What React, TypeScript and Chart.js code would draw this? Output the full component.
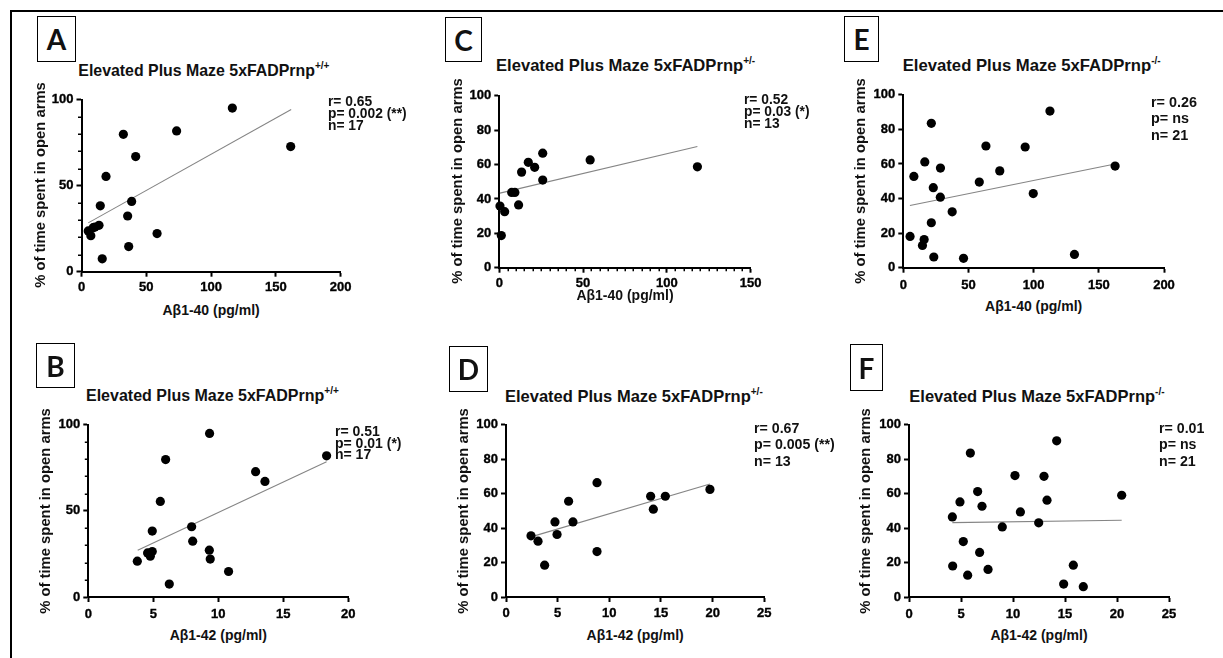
import React, { useEffect, useRef } from 'react';
import { Chart, registerables } from 'chart.js';

Chart.register(...registerables);

// ---------- Data ----------
const xLabel40 = 'Aβ1-40 (pg/ml)';
const xLabel42 = 'Aβ1-42 (pg/ml)';
const yLabel = '% of time spent in open arms';
const titleBase = 'Elevated Plus Maze 5xFADPrnp';

// Panel A : Aβ1-40, Prnp+/+
const aX = [116.4, 73.4, 32.3, 161.4, 41.8, 18.9, 38.7, 14.5, 35.6, 58.3, 13.5, 10.4, 5.2, 7.2, 36.4, 16.0, 9.0];
const aY = [95.2, 81.9, 79.9, 72.8, 67.0, 55.4, 40.9, 38.3, 32.4, 22.2, 27.0, 26.0, 23.7, 20.9, 14.6, 7.5, 25.6];
const aFitX = [5.2, 161.8];
const aFitY = [28.4, 94.4];
const aStats = ['r= 0.65', 'p= 0.002 (**)', 'n= 17'];

// Panel C : Aβ1-40, Prnp+/-
const cX = [25.9, 54.2, 17.3, 21.1, 118.2, 13.3, 25.9, 7.4, 9.3, 11.5, 0.4, 3.2, 1.2];
const cY = [66.6, 62.7, 61.3, 58.4, 58.7, 55.6, 51.0, 43.8, 43.8, 36.5, 35.9, 32.6, 18.7];
const cFitX = [0.4, 118.2];
const cFitY = [43.4, 70.5];
const cStats = ['r= 0.52', 'p= 0.03 (*)', 'n= 13'];

// Panel E : Aβ1-40, Prnp-/-
const eX = [112.5, 21.5, 63.4, 93.5, 16.5, 28.5, 162.5, 74.0, 8.1, 58.3, 23.0, 99.7, 28.4, 37.5, 21.5, 5.2, 16.0, 14.7, 23.4, 46.2, 131.3];
const eY = [90.6, 83.5, 70.4, 69.8, 61.2, 57.6, 58.8, 56.0, 52.8, 49.5, 46.3, 42.9, 40.8, 32.3, 26.0, 18.1, 16.3, 12.9, 6.2, 5.4, 7.7];
const eFitX = [5.1, 162.4];
const eFitY = [36.0, 60.0];
const eStats = ['r= 0.26', 'p= ns', 'n= 21'];

// Panel B : Aβ1-42, Prnp+/+
const bX = [9.33, 18.33, 5.95, 12.87, 13.59, 5.54, 7.95, 4.92, 8.03, 9.31, 9.38, 4.92, 4.77, 4.56, 3.77, 10.79, 6.23];
const bY = [95.0, 82.0, 79.8, 72.8, 67.1, 55.5, 40.8, 38.3, 32.4, 27.2, 22.0, 26.4, 23.7, 25.6, 20.8, 14.8, 7.5];
const bFitX = [3.8, 18.33];
const bFitY = [27.2, 78.6];
const bStats = ['r= 0.51', 'p= 0.01 (*)', 'n= 17'];

// Panel D : Aβ1-42, Prnp+/-
const dX = [8.81, 19.74, 14.0, 15.42, 6.06, 14.26, 4.74, 6.48, 4.94, 2.42, 3.1, 8.81, 3.74];
const dY = [66.4, 62.5, 58.5, 58.5, 55.6, 51.0, 43.6, 43.6, 36.3, 35.5, 32.4, 26.4, 18.5];
const dFitX = [2.42, 19.74];
const dFitY = [34.9, 65.6];
const dStats = ['r= 0.67', 'p= 0.005 (**)', 'n= 13'];

// Panel F : Aβ1-42, Prnp-/-
const fX = [14.2, 5.9, 10.19, 12.98, 6.6, 20.45, 13.27, 4.9, 7.02, 10.71, 4.17, 12.47, 8.97, 5.22, 6.79, 15.8, 4.2, 7.6, 5.64, 14.87, 16.76];
const fY = [90.7, 83.6, 70.5, 70.1, 61.2, 59.1, 56.2, 55.2, 52.7, 49.4, 46.5, 43.1, 40.7, 32.2, 25.9, 18.5, 18.0, 16.0, 12.7, 7.5, 6.0];
const fFitX = [4.17, 20.45];
const fFitY = [43.2, 44.6];
const fStats = ['r= 0.01', 'p= ns', 'n= 21'];

// ---------- Layout ----------
type PanelCfg = {
  letter: string;
  sup: string;
  xs: number[]; ys: number[]; fitX: number[]; fitY: number[];
  stats: string[];
  xLabel: string;
  xMax: number; xStep: number; yStep: number;
  xMinor?: number; yMinor?: number;
  L: number; R: number; T: number; B: number;
  yTitleCx: number; xTitleCy: number; tickPad: number;
  box: { l: number; t: number; w: number; h: number };
  title: { l: number; base: number; fs: number };
  st: { l: number; c: number; lh: number; fs: number };
};

const panels: PanelCfg[] = [
  {
    letter: 'A', sup: '+/+', xs: aX, ys: aY, fitX: aFitX, fitY: aFitY, stats: aStats, xLabel: xLabel40,
    xMax: 200, xStep: 50, yStep: 50, yMinor: 10,
    L: 81.5, R: 340.7, T: 99, B: 271.7, yTitleCx: 40, xTitleCy: 310, tickPad: 2.5,
    box: { l: 37, t: 16, w: 39, h: 46 }, title: { l: 78.3, base: 76, fs: 15.9 },
    st: { l: 328, c: 102, lh: 12, fs: 13.8 },
  },
  {
    letter: 'C', sup: '+/-', xs: cX, ys: cY, fitX: cFitX, fitY: cFitY, stats: cStats, xLabel: xLabel40,
    xMax: 150, xStep: 50, yStep: 20, xMinor: 5,
    L: 499.3, R: 750.7, T: 95, B: 267.7, yTitleCx: 457, xTitleCy: 295, tickPad: 2.5,
    box: { l: 445, t: 17, w: 37, h: 45 }, title: { l: 496, base: 71.7, fs: 16.6 },
    st: { l: 744, c: 99.5, lh: 12, fs: 13.8 },
  },
  {
    letter: 'E', sup: '-/-', xs: eX, ys: eY, fitX: eFitX, fitY: eFitY, stats: eStats, xLabel: xLabel40,
    xMax: 200, xStep: 50, yStep: 20,
    L: 903.3, R: 1164, T: 94.3, B: 267.7, yTitleCx: 860, xTitleCy: 306, tickPad: 4.5,
    box: { l: 844, t: 16, w: 35, h: 46 }, title: { l: 902.7, base: 71.7, fs: 16.7 },
    st: { l: 1151, c: 102, lh: 16.5, fs: 14.4 },
  },
  {
    letter: 'B', sup: '+/+', xs: bX, ys: bY, fitX: bFitX, fitY: bFitY, stats: bStats, xLabel: xLabel42,
    xMax: 20, xStep: 5, yStep: 50, yMinor: 10,
    L: 88.3, R: 348.3, T: 424, B: 597, yTitleCx: 44.7, xTitleCy: 635, tickPad: 5,
    box: { l: 36, t: 343, w: 39, h: 45 }, title: { l: 86, base: 401.7, fs: 16 },
    st: { l: 335, c: 432, lh: 11.5, fs: 14 },
  },
  {
    letter: 'D', sup: '+/-', xs: dX, ys: dY, fitX: dFitX, fitY: dFitY, stats: dStats, xLabel: xLabel42,
    xMax: 25, xStep: 5, yStep: 20,
    L: 506, R: 764.3, T: 424.3, B: 597, yTitleCx: 462.5, xTitleCy: 635, tickPad: 4,
    box: { l: 449, t: 346, w: 39, h: 46 }, title: { l: 505, base: 401.7, fs: 16.5 },
    st: { l: 754, c: 428, lh: 16.7, fs: 14.2 },
  },
  {
    letter: 'F', sup: '-/-', xs: fX, ys: fY, fitX: fFitX, fitY: fFitY, stats: fStats, xLabel: xLabel42,
    xMax: 25, xStep: 5, yStep: 20,
    L: 909, R: 1169, T: 424.3, B: 597, yTitleCx: 865, xTitleCy: 635, tickPad: 5,
    box: { l: 850, t: 344, w: 33, h: 47 }, title: { l: 909.3, base: 401.5, fs: 16.5 },
    st: { l: 1159, c: 428, lh: 16.7, fs: 14.2 },
  },
];

const FONT = '"Liberation Sans", Arial, Helvetica, sans-serif';

const isMajor = (v: number, step: number) => Math.abs(v / step - Math.round(v / step)) < 1e-6;

const minorTickPlugin = {
  id: 'minorTicks',
  afterDraw(chart: any, _args: any, opts: any) {
    const ctx = chart.ctx;
    ctx.save();
    ctx.strokeStyle = '#000';
    ctx.lineWidth = 1.5;
    if (opts.x) {
      const s = chart.scales.x;
      for (let v = s.min; v <= s.max + 1e-9; v += opts.x) {
        if (isMajor(v, opts.xMajor)) continue;
        const px = Math.round(s.getPixelForValue(v)) + 0.25;
        ctx.beginPath();
        ctx.moveTo(px, s.top);
        ctx.lineTo(px, s.top + 3.5);
        ctx.stroke();
      }
    }
    if (opts.y) {
      const s = chart.scales.y;
      for (let v = s.min; v <= s.max + 1e-9; v += opts.y) {
        if (isMajor(v, opts.yMajor)) continue;
        const py = Math.round(s.getPixelForValue(v)) + 0.25;
        ctx.beginPath();
        ctx.moveTo(s.right, py);
        ctx.lineTo(s.right - 3.5, py);
        ctx.stroke();
      }
    }
    ctx.restore();
  },
};

function ScatterPanel({ p }: { p: PanelCfg }) {
  const ref = useRef<HTMLCanvasElement>(null);
  const cl = Math.floor(p.L - 45);
  const ct = Math.floor(p.T - 10);
  const cr = Math.ceil(p.R + 18);
  const cb = Math.ceil(p.B + 28);
  const W = cr - cl;
  const H = cb - ct;

  useEffect(() => {
    if (!ref.current) return;
    const tickFont = { family: FONT, size: 13, weight: 'bold' as const };
    const chart = new Chart(ref.current, {
      type: 'scatter',
      data: {
        datasets: [
          {
            data: p.xs.map((x, i) => ({ x, y: p.ys[i] })),
            backgroundColor: '#000',
            borderColor: '#000',
            borderWidth: 0,
            pointRadius: 4.6,
            order: 0,
            clip: false,
          } as any,
          {
            data: p.fitX.map((x, i) => ({ x, y: p.fitY[i] })),
            showLine: true,
            borderColor: '#858585',
            borderWidth: 1.1,
            pointRadius: 0,
            order: 1,
            clip: false,
          } as any,
        ],
      },
      options: {
        responsive: false,
        animation: false,
        events: [],
        layout: {
          autoPadding: false,
          padding: { left: 0, top: p.T - ct, right: cr - p.R, bottom: 0 },
        },
        plugins: {
          legend: { display: false },
          tooltip: { enabled: false },
          minorTicks: { x: p.xMinor, xMajor: p.xStep, y: p.yMinor, yMajor: p.yStep },
        } as any,
        scales: {
          x: {
            type: 'linear',
            min: 0,
            max: p.xMax,
            afterFit: (s: any) => { s.height = cb - p.B; },
            ticks: {
              stepSize: p.xStep,
              color: '#000',
              font: tickFont,
              padding: p.tickPad,
              maxRotation: 0,
              autoSkip: false,
              textStrokeColor: '#000',
              textStrokeWidth: 0.35,
            },
            grid: { drawOnChartArea: false, drawTicks: true, tickLength: 5, tickColor: '#000', tickWidth: 2 },
            border: { display: true, color: '#000', width: 2 },
            title: { display: false },
          },
          y: {
            type: 'linear',
            min: 0,
            max: 100,
            afterFit: (s: any) => { s.width = p.L - cl; },
            ticks: {
              stepSize: p.yStep,
              color: '#000',
              font: tickFont,
              padding: 3,
              textStrokeColor: '#000',
              textStrokeWidth: 0.35,
            },
            grid: { drawOnChartArea: false, drawTicks: true, tickLength: 5, tickColor: '#000', tickWidth: 2 },
            border: { display: true, color: '#000', width: 2 },
            title: { display: false },
          },
        },
      } as any,
      plugins: [minorTickPlugin as any],
    });
    return () => chart.destroy();
  }, []);

  return (
    <canvas
      ref={ref}
      width={W}
      height={H}
      style={{ position: 'absolute', left: cl, top: ct, width: W, height: H }}
    />
  );
}

const centered = (x: number, y: number, extra: React.CSSProperties = {}): React.CSSProperties => ({
  position: 'absolute', left: x, top: y, transform: 'translate(-50%, -50%)',
  whiteSpace: 'nowrap', fontFamily: FONT, fontWeight: 700, color: '#111', lineHeight: 1, ...extra,
});

function PanelText({ p }: { p: PanelCfg }) {
  return (
    <>
      <div
        style={{
          position: 'absolute', left: p.box.l, top: p.box.t, width: p.box.w, height: p.box.h,
          boxSizing: 'border-box', border: '1.3px solid #000',
          display: 'flex', alignItems: 'center', justifyContent: 'center',
          fontFamily: 'Lato, "Open Sans", sans-serif', fontWeight: 700, fontSize: 28, color: '#111',
        }}
      >
        {p.letter}
      </div>
      <div
        style={{
          position: 'absolute', left: p.title.l, top: p.title.base - p.title.fs * 0.846,
          fontFamily: FONT, fontWeight: 700, fontSize: p.title.fs, lineHeight: `${p.title.fs}px`,
          whiteSpace: 'nowrap', color: '#111',
        }}
      >
        {titleBase}
        <sup style={{ fontSize: 10, verticalAlign: 'baseline', position: 'relative', top: -7 }}>{p.sup}</sup>
      </div>
      <div style={centered((p.L + p.R) / 2, p.xTitleCy, { fontSize: 14 })}>{p.xLabel}</div>
      <div
        style={centered(p.yTitleCx, (p.T + p.B) / 2, {
          fontSize: 14.8,
          transform: 'translate(-50%, -50%) rotate(-90deg)',
        })}
      >
        {yLabel}
      </div>
      <div
        style={{
          position: 'absolute', left: p.st.l, top: p.st.c - p.st.lh / 2,
          fontFamily: FONT, fontWeight: 700, fontSize: p.st.fs, lineHeight: `${p.st.lh}px`,
          whiteSpace: 'nowrap', color: '#111',
        }}
      >
        {p.stats.map((s, i) => (
          <div key={i}>{s}</div>
        ))}
      </div>
    </>
  );
}

export default function App() {
  return (
    <div
      style={{
        position: 'fixed', left: 0, top: 0, width: 1223, height: 658,
        background: '#fff', overflow: 'hidden',
      }}
    >
      <div style={{ position: 'absolute', left: 10, top: 10, width: 1213, height: 2, background: '#000' }} />
      <div style={{ position: 'absolute', left: 10, top: 10, width: 2, height: 648, background: '#000' }} />
      {panels.map((p) => (
        <ScatterPanel key={'c' + p.letter} p={p} />
      ))}
      {panels.map((p) => (
        <PanelText key={'t' + p.letter} p={p} />
      ))}
    </div>
  );
}
